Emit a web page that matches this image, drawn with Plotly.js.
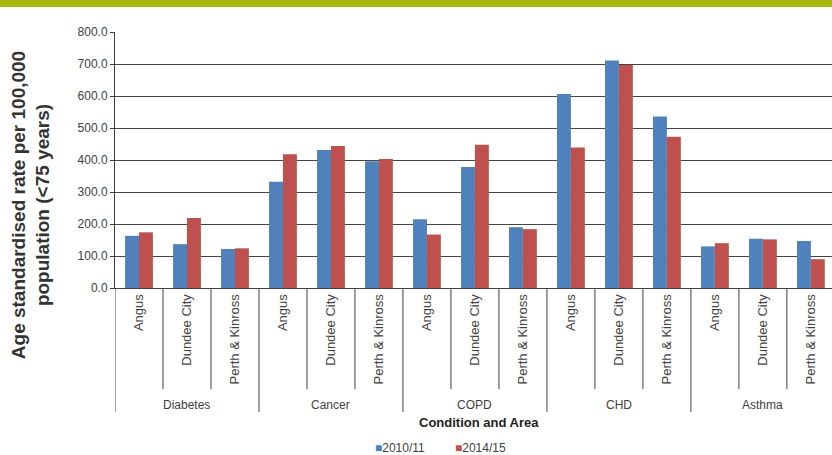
<!DOCTYPE html>
<html>
<head>
<meta charset="utf-8">
<script src="https://cdn.plot.ly/plotly-3.0.1.min.js"></script>
<style>html,body{margin:0;padding:0;background:#fff;}#chart{width:832px;height:455px;}</style>
</head>
<body>
<div id="chart"></div>
<script>
const conditions = ["Diabetes", "Cancer", "COPD", "CHD", "Asthma"];
const areas = ["Angus", "Dundee City", "Perth & Kinross"];
const seriesNames = ["2010/11", "2014/15"];
// values per condition, per area (Angus, Dundee City, Perth & Kinross)
const rate2010 = [163, 137, 122, 332, 431, 396, 215, 378, 190, 606, 711, 536, 130, 154, 147];
const rate2014 = [174, 219, 124, 418, 444, 403, 167, 448, 184, 439, 697, 473, 140, 152, 90];
const yTicks = [0, 100, 200, 300, 400, 500, 600, 700, 800];

const colors = ["#4F81BD", "#C0504D"];
const font = "Liberation Sans, Arial, sans-serif";
const txt = "#404040";

const idx = [], tickText = [];
conditions.forEach((c, ci) => areas.forEach((a, ai) => { idx.push(ci * areas.length + ai); tickText.push(a); }));

const traces = [rate2010, rate2014].map((vals, k) => ({
  type: "bar", name: seriesNames[k], x: idx, y: vals,
  marker: {color: colors[k], line: {width: 0}}, hoverinfo: "x+y", showlegend: false
}));

const shapes = [];
// band at top
shapes.push({type: "rect", xref: "paper", yref: "paper", x0: -0.2, x1: 1.01, y0: 1.098, y1: 1.2, fillcolor: "#A9B80E", line: {width: 0}, layer: "below"});
// separators between areas
for (let i = 0; i <= idx.length; i++) {
  const isGroup = i % areas.length === 0;
  shapes.push({type: "line", xref: "x", yref: "paper", x0: i - 0.5, x1: i - 0.5, y0: 0, y1: isGroup ? -0.484 : -0.395,
    line: {color: "#404040", width: 1}});
}

const annotations = conditions.map((c, ci) => ({
  text: c, xref: "x", yref: "paper", x: ci * areas.length + (areas.length - 1) / 2, y: -0.457,
  showarrow: false, xanchor: "center", yanchor: "middle", font: {family: font, size: 12, color: txt}
}));
annotations.push({text: "Condition and Area", xref: "paper", yref: "paper", x: 0.508, y: -0.527,
  showarrow: false, xanchor: "center", yanchor: "middle", font: {family: font, size: 13, color: "#222", weight: "bold"}});
annotations.push({text: "Age standardised rate per 100,000<br>population (<75 years)", xref: "paper", yref: "paper",
  x: -0.118, y: 0.325, textangle: -90, showarrow: false, xanchor: "center", yanchor: "middle",
  font: {family: font, size: 19, color: "#333", weight: "bold"}});
// legend built from the series names and colours
const legendX = [0.36, 0.471];
seriesNames.forEach((n, k) => annotations.push({
  text: '<span style="color:' + colors[k] + '">■</span>' + n,
  xref: "paper", yref: "paper", x: legendX[k], y: -0.625, xanchor: "left", yanchor: "middle", showarrow: false,
  font: {family: font, size: 12, color: txt}
}));

const layout = {
  width: 832, height: 455,
  margin: {l: 115, r: 0, t: 32, b: 167, pad: 0},
  paper_bgcolor: "#fff", plot_bgcolor: "#fff",
  font: {family: font, size: 12, color: txt},
  bargap: 0.42, bargroupgap: 0, barmode: "group",
  showlegend: false,
  xaxis: {type: "linear", range: [-0.5, 14.44], tickmode: "array", tickvals: idx, ticktext: tickText,
    tickangle: -90, ticks: "", showgrid: false, zeroline: false, showline: true, linecolor: "#404040", linewidth: 1,
    tickfont: {family: font, size: 13, color: txt}, fixedrange: true},
  yaxis: {range: [0, 800], tickmode: "array", tickvals: yTicks, tickformat: ".1f", ticks: "outside", ticklen: 4,
    tickcolor: "#404040", showline: true, linecolor: "#404040", linewidth: 1, showgrid: true, gridcolor: "#444",
    gridwidth: 1, zeroline: false, tickfont: {family: font, size: 12, color: txt}, fixedrange: true},
  shapes: shapes, annotations: annotations
};

Plotly.newPlot("chart", traces, layout, {displayModeBar: false, staticPlot: true});
</script>
</body>
</html>
